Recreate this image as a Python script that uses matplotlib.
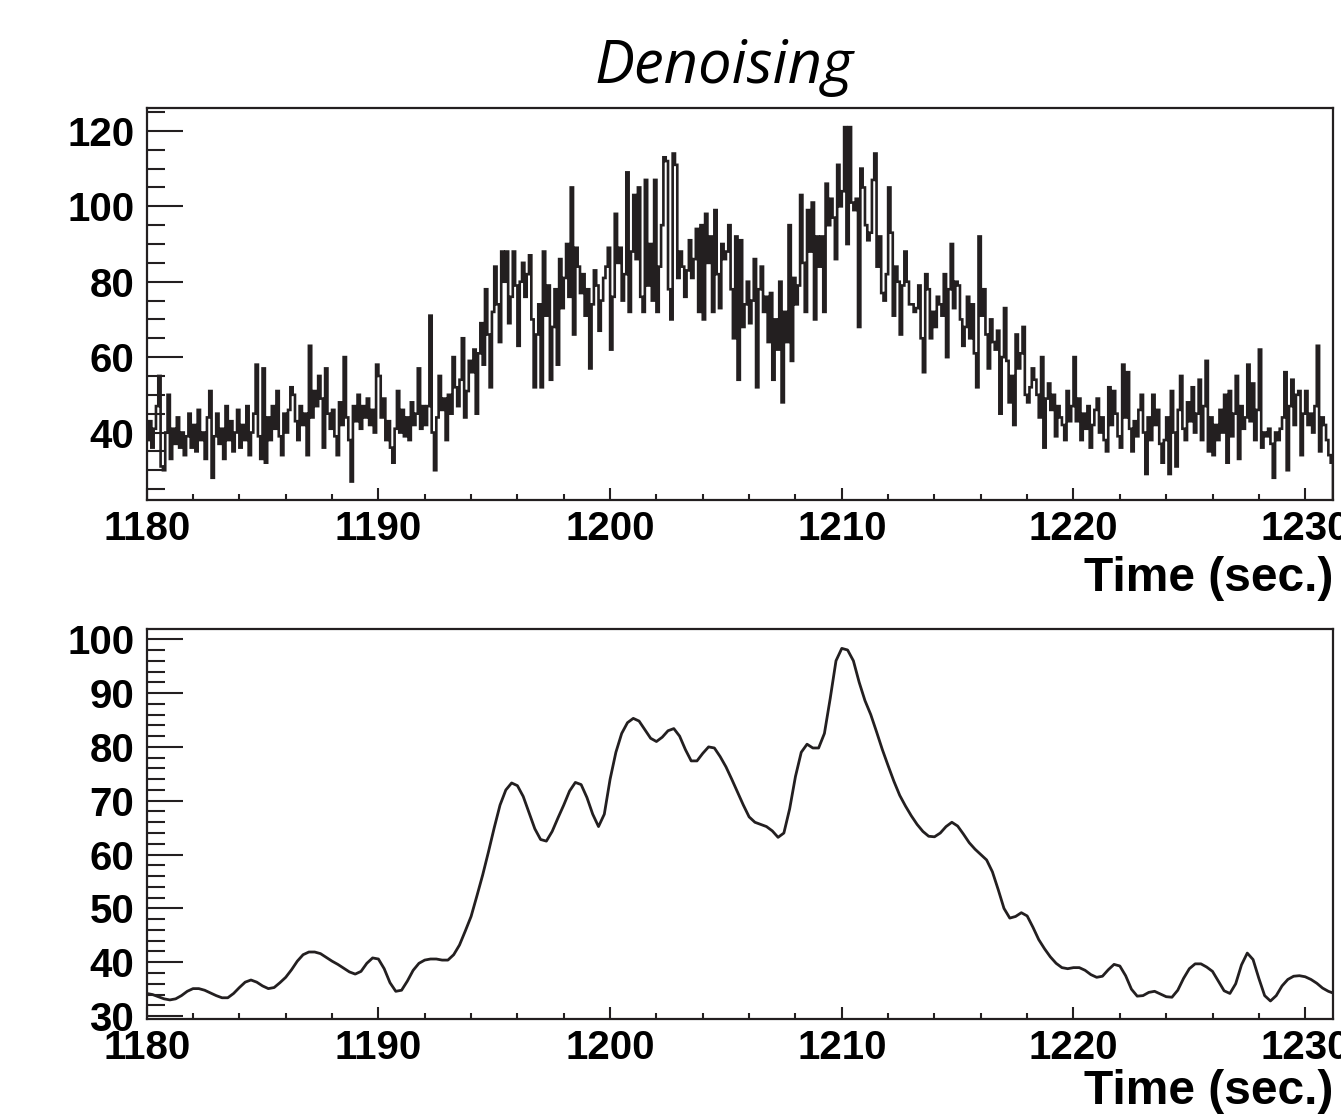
"""Denoising: raw light curve (top) vs. denoised curve (bottom)."""

import matplotlib

matplotlib.use("Agg")
import matplotlib.pyplot as plt  # noqa: E402
import numpy as np  # noqa: E402
from matplotlib.ticker import MultipleLocator  # noqa: E402

# ---- data -------------------------------------------------------------
# raw counts, 0.1 s bins starting at 1180.0 s (one row per second)
raw_t0 = 1180.0
raw_bin = 0.1
raw_counts = [
    38, 43, 36, 41, 47, 55, 31, 30, 40, 50,      # 1180
    33, 41, 37, 44, 36, 40, 34, 39, 45, 36,      # 1181
    42, 35, 46, 38, 40, 33, 44, 51, 28, 39,      # 1182
    45, 37, 41, 33, 47, 38, 43, 35, 40, 46,      # 1183
    36, 42, 38, 47, 34, 40, 45, 58, 39, 33,      # 1184
    57, 32, 44, 38, 47, 41, 51, 39, 34, 45,      # 1185
    40, 46, 52, 50, 43, 38, 47, 42, 45, 34,      # 1186
    63, 44, 51, 47, 55, 49, 36, 57, 45, 41,      # 1187
    46, 39, 34, 48, 42, 60, 44, 38, 27, 47,      # 1188
    43, 50, 41, 47, 44, 49, 42, 46, 40, 58,      # 1189
    55, 44, 49, 38, 43, 36, 32, 41, 51, 40,      # 1190
    46, 39, 44, 38, 48, 42, 45, 57, 41, 47,      # 1191
    42, 47, 71, 40, 30, 44, 55, 46, 49, 38,      # 1192
    50, 45, 60, 52, 47, 54, 65, 44, 51, 59,      # 1193
    56, 62, 45, 61, 69, 58, 78, 66, 52, 72,      # 1194
    84, 74, 64, 88, 80, 88, 69, 76, 88, 79,      # 1195
    63, 80, 85, 76, 82, 87, 70, 52, 66, 74,      # 1196
    52, 88, 71, 79, 54, 68, 78, 58, 86, 73,      # 1197
    81, 90, 76, 105, 66, 89, 84, 77, 82, 71,     # 1198
    78, 57, 74, 83, 79, 67, 75, 81, 84, 89,      # 1199
    62, 76, 98, 85, 89, 75, 82, 109, 72, 88,     # 1200
    103, 86, 105, 76, 72, 107, 79, 90, 75, 107,  # 1201
    72, 84, 95, 113, 112, 78, 70, 114, 111, 81,  # 1202
    88, 84, 76, 83, 91, 81, 86, 94, 72, 95,      # 1203
    70, 98, 85, 92, 72, 99, 82, 73, 90, 86,      # 1204
    88, 95, 78, 65, 92, 54, 91, 68, 74, 80,      # 1205
    69, 75, 86, 52, 78, 84, 72, 76, 64, 77,      # 1206
    54, 70, 62, 80, 48, 72, 64, 95, 59, 81,      # 1207
    74, 79, 103, 85, 72, 99, 88, 101, 70, 92,    # 1208
    84, 92, 72, 106, 95, 102, 97, 86, 111, 100,  # 1209
    104, 121, 90, 121, 101, 99, 102, 68, 110, 105,  # 1210
    95, 91, 93, 107, 114, 84, 92, 77, 75, 82,    # 1211
    105, 93, 71, 84, 80, 66, 79, 88, 80, 74,     # 1212
    74, 72, 73, 79, 65, 56, 82, 78, 65, 72,      # 1213
    68, 76, 74, 71, 82, 60, 78, 90, 73, 80,      # 1214
    79, 70, 63, 68, 76, 65, 74, 61, 52, 92,      # 1215
    71, 78, 66, 57, 70, 64, 62, 67, 45, 60,      # 1216
    73, 59, 48, 55, 42, 66, 57, 61, 68, 50,      # 1217
    48, 52, 57, 54, 50, 44, 60, 36, 49, 53,      # 1218
    46, 50, 39, 47, 44, 42, 38, 51, 43, 47,      # 1219
    60, 43, 49, 38, 45, 41, 47, 36, 42, 46,      # 1220
    49, 40, 44, 38, 35, 52, 42, 51, 45, 39,      # 1221
    36, 58, 44, 56, 41, 35, 43, 39, 46, 50,      # 1222
    40, 29, 44, 38, 50, 42, 46, 37, 32, 38,      # 1223
    44, 29, 51, 40, 31, 46, 55, 41, 38, 48,      # 1224
    43, 52, 40, 45, 54, 38, 47, 59, 35, 44,      # 1225
    34, 42, 38, 46, 40, 50, 32, 51, 39, 45,      # 1226
    55, 33, 47, 41, 44, 58, 43, 53, 38, 46,      # 1227
    62, 36, 40, 39, 41, 37, 28, 40, 38, 41,      # 1228
    44, 56, 30, 47, 54, 42, 50, 51, 34, 45,      # 1229
    51, 42, 45, 40, 47, 63, 35, 44, 42, 38,      # 1230
    34, 32,                                      # 1231
]

# denoised curve, sampled every 0.25 s starting at 1180.0 s
den_t0 = 1180.0
den_step = 0.25
den_values = [
    34.2, 34.0, 33.6, 33.2,  33.0, 33.2, 33.8, 34.6,  35.1, 35.1, 34.8, 34.3,   # 1180-1182
    33.8, 33.4, 33.4, 34.2,  35.3, 36.3, 36.7, 36.3,  35.6, 35.1, 35.3, 36.2,   # 1183-1185
    37.2, 38.6, 40.2, 41.4,  41.9, 41.9, 41.6, 40.9,  40.2, 39.6, 38.9, 38.2,   # 1186-1188
    37.8, 38.3, 39.8, 40.8,  40.6, 38.8, 36.2, 34.6,  34.8, 36.5, 38.5, 39.8,   # 1189-1191
    40.4, 40.6, 40.6, 40.4,  40.4, 41.4, 43.2, 45.8,  48.5, 52.3, 56.2, 60.5,   # 1192-1194
    65.0, 69.2, 72.0, 73.3,  72.8, 70.8, 67.8, 64.8,  62.8, 62.5, 64.3, 66.8,   # 1195-1197
    69.2, 71.8, 73.4, 73.0,  70.6, 67.5, 65.2, 67.5,  74.0, 79.0, 82.5, 84.5,   # 1198-1200
    85.3, 84.8, 83.2, 81.6,  81.0, 81.8, 83.0, 83.4,  82.0, 79.5, 77.4, 77.4,   # 1201-1203
    78.8, 80.0, 79.8, 78.2,  76.3, 74.0, 71.6, 69.2,  67.0, 66.0, 65.6, 65.2,   # 1204-1206
    64.4, 63.2, 64.0, 68.5,  74.5, 79.0, 80.5, 79.8,  79.8, 82.5, 89.0, 96.0,   # 1207-1209
    98.3, 98.0, 96.0, 92.0,  88.6, 86.0, 82.8, 79.5,  76.5, 73.6, 71.0, 69.0,   # 1210-1212
    67.2, 65.6, 64.3, 63.4,  63.3, 64.0, 65.2, 66.0,  65.3, 63.8, 62.2, 61.0,   # 1213-1215
    60.0, 59.0, 56.8, 53.5,  50.0, 48.2, 48.5, 49.2,  48.6, 46.5, 44.2, 42.5,   # 1216-1218
    41.0, 39.8, 39.0, 38.8,  39.0, 39.0, 38.5, 37.7,  37.2, 37.4, 38.6, 39.6,   # 1219-1221
    39.3, 37.5, 35.0, 33.7,  33.8, 34.4, 34.6, 34.1,  33.6, 33.5, 34.8, 37.0,   # 1222-1224
    38.8, 39.7, 39.7, 39.1,  38.3, 36.5, 34.7, 34.2,  36.0, 39.5, 41.7, 40.5,   # 1225-1227
    37.0, 33.8, 32.8, 33.8,  35.6, 36.8, 37.4, 37.5,  37.3, 36.8, 36.1, 35.2,   # 1228-1230
    34.6, 34.2,                                                                 # 1231
]

X_RANGE = (1180.0, 1231.2)
LINE = "#231f20"
TICK_FONT = {"family": "Liberation Sans", "weight": "bold", "size": 29}

raw_edges = raw_t0 + raw_bin * np.arange(len(raw_counts) + 1)
den_t = den_t0 + den_step * np.arange(len(den_values))

W, H = 1341, 1115
fig = plt.figure(figsize=(W / 100, H / 100), dpi=100)


def _axes(left, top, right, bottom):
    return fig.add_axes([left / W, 1 - bottom / H, (right - left) / W, (bottom - top) / H])


def _style(ax, ymajor, yminor, label_y):
    ax.set_xlim(*X_RANGE)
    ax.xaxis.set_major_locator(MultipleLocator(10))
    ax.xaxis.set_minor_locator(MultipleLocator(2))
    ax.yaxis.set_major_locator(MultipleLocator(ymajor))
    ax.yaxis.set_minor_locator(MultipleLocator(yminor))
    for s in ax.spines.values():
        s.set_linewidth(1.6)
        s.set_color(LINE)
    ax.tick_params(which="both", direction="in", top=False, right=False, width=1.5, color=LINE)
    ax.tick_params(axis="y", which="major", length=26, pad=9)
    ax.tick_params(axis="y", which="minor", length=13)
    ax.tick_params(axis="x", which="major", length=8.5, pad=7)
    ax.tick_params(axis="x", which="minor", length=4.5)
    for lab in ax.get_xticklabels() + ax.get_yticklabels():
        lab.set_fontproperties(TICK_FONT)
    ax.set_xlabel("Time (sec.)", loc="right", fontfamily="Liberation Sans",
                  fontweight="bold", fontsize=34.5)
    ax.xaxis.set_label_coords(1.0, label_y)


# top: raw histogram
ax1 = _axes(146.7, 108.3, 1333, 500)
ax1.stairs(raw_counts, raw_edges, color=LINE, lw=1.9)
ax1.set_ylim(22.1, 126.0)
_style(ax1, 20, 5, -0.143)

# bottom: denoised curve
ax2 = _axes(146.7, 629, 1333, 1019.3)
ax2.plot(den_t, den_values, color=LINE, lw=2.0, solid_joinstyle="round")
ax2.set_ylim(29.4, 101.9)
_style(ax2, 10, 2, -0.128)

fig.text(724 / W, 1 - 83 / H, "Denoising", ha="center", va="baseline",
         fontfamily="Open Sans", style="italic", fontsize=43)

fig.savefig("out.png", dpi=100)
